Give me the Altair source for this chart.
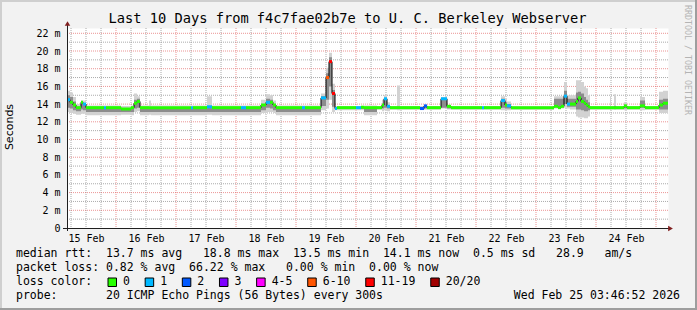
import altair as alt
import pandas as pd

# ---------------- data (hours since 15 Feb 00:00, values in ms) ----------------
seg_start_h = [4.4, 5.6, 6.8, 8.0, 10.0, 10.8, 12.0, 19.2, 20.0, 26.0,
               30.0, 31.2, 32.4, 33.6, 37.2, 38.0, 54.0, 54.8, 60.4, 62.4,
               74.0, 76.0, 82.0, 84.0, 85.6, 86.8, 88.0, 98.4, 99.6, 106.0,
               108.0, 109.2, 110.4, 111.6, 112.4, 120.0, 122.0, 123.2, 128.4, 130.4,
               131.2, 132.4, 133.6, 136.4, 137.6, 145.6, 147.2, 148.4, 154.0, 156.4,
               158.0, 170.4, 171.2, 178.0, 179.6, 180.4, 182.0, 199.2, 200.8, 202.0,
               203.2, 204.4, 205.6, 208.0, 208.8, 210.0, 211.2, 212.0, 212.8, 213.6,
               221.6, 222.0, 223.2, 224.0, 227.2, 228.4, 233.6, 235.6, 241.2, 242.8]
end_h = 244.8
start_h = 4.4

median_ms = [14.5, 14.2, 13.9, 13.6, 14.2, 14.0, 13.6, 13.6, 13.6, 13.45,
             13.6, 14.1, 14.3, 13.6, 13.6, 13.6, 13.6, 13.6, 13.7, 13.6,
             13.6, 13.6, 13.9, 14.2, 14.2, 13.9, 13.6, 13.6, 13.6, 14.7,
             17.0, 18.8, 15.2, 13.5, 13.6, 13.6, 13.65, 13.6, 13.6, 13.9,
             14.6, 13.75, 13.6, 13.6, 13.6, 13.5, 13.8, 13.6, 14.6, 13.75,
             13.6, 13.6, 13.6, 14.4, 13.9, 13.8, 13.6, 13.75, 13.6, 13.75,
             14.9, 14.0, 14.0, 14.3, 14.7, 14.3, 14.1, 13.9, 13.7, 13.6,
             13.6, 13.6, 13.6, 13.6, 13.8, 13.6, 13.8, 13.6, 13.9, 14.1]

loss_idx = [1, 0, 0, 0, 0, 1, 0, 1, 0, 0,
            0, 0, 0, 0, 0, 0, 1, 0, 1, 0,
            1, 0, 0, 1, 0, 0, 0, 1, 0, 1,
            5, 6, 6, 1, 0, 1, 0, 0, 0, 0,
            1, 1, 0, 0, 0, 2, 2, 0, 1, 0,
            0, 1, 0, 1, 0, 1, 0, 0, 0, 0,
            1, 1, 0, 0, 0, 0, 0, 0, 0, 0,
            0, 0, 0, 0, 0, 0, 0, 0, 0, 0]

smoke_lo = [13.1, 13.0, 12.9, 12.8, 12.9, 12.9, 12.75, 12.75, 12.75, 12.8,
            12.75, 13.1, 13.2, 12.75, 12.8, 12.75, 12.75, 12.75, 12.8, 12.75,
            12.75, 12.75, 13.0, 13.1, 13.1, 13.0, 12.75, 12.75, 12.75, 13.3,
            13.5, 14.5, 13.1, 13.3, 13.3, 13.3, 13.3, 12.75, 13.35, 13.2,
            13.3, 13.2, 13.35, 13.3, 13.35, 13.35, 13.35, 13.35, 13.5, 13.4,
            13.35, 13.35, 13.35, 13.3, 13.3, 13.3, 13.35, 13.5, 13.5, 13.5,
            13.6, 13.5, 13.4, 12.6, 12.5, 12.5, 12.4, 12.4, 12.6, 13.35,
            13.35, 13.35, 13.35, 13.35, 13.3, 13.35, 13.3, 13.35, 13.0, 13.0]

smoke_hi = [15.5, 15.3, 14.8, 14.0, 14.4, 14.4, 13.85, 13.85, 13.85, 13.8,
            13.85, 15.2, 14.9, 13.85, 14.4, 13.85, 13.85, 13.85, 14.9, 13.85,
            13.85, 13.85, 14.5, 15.1, 15.0, 14.4, 13.85, 13.85, 13.85, 15.2,
            18.1, 19.8, 16.3, 13.8, 13.8, 13.8, 13.8, 13.85, 13.8, 14.5,
            15.0, 14.2, 13.8, 16.1, 13.8, 13.8, 13.9, 13.8, 14.8, 13.9,
            13.8, 13.8, 13.8, 14.9, 14.6, 14.3, 13.8, 14.9, 14.9, 14.9,
            16.5, 15.0, 15.0, 16.7, 16.7, 16.5, 16.0, 15.8, 15.0, 13.8,
            14.9, 13.8, 15.1, 13.8, 14.2, 13.8, 14.8, 13.8, 15.4, 15.5]

core_lo = [13.6, 13.5, 13.3, 13.2, 13.4, 13.3, 13.1, 13.1, 13.1, 13.1,
           13.1, 13.5, 13.6, 13.1, 13.1, 13.1, 13.1, 13.1, 13.1, 13.1,
           13.1, 13.1, 13.3, 13.6, 13.5, 13.3, 13.1, 13.1, 13.1, 13.8,
           14.5, 16.0, 13.7, 13.4, 13.45, 13.45, 13.45, 13.1, 13.5, 13.5,
           13.6, 13.5, 13.5, 13.5, 13.5, 13.5, 13.5, 13.5, 13.6, 13.5,
           13.5, 13.5, 13.5, 13.6, 13.5, 13.5, 13.5, 13.7, 13.7, 13.7,
           14.0, 13.7, 13.7, 13.4, 13.4, 13.3, 13.2, 13.2, 13.3, 13.5,
           13.5, 13.5, 13.5, 13.5, 13.5, 13.5, 13.6, 13.5, 13.4, 13.4]

core_hi = [15.0, 14.8, 14.3, 13.7, 14.2, 14.1, 13.6, 13.6, 13.6, 13.5,
           13.6, 14.5, 14.6, 13.6, 13.6, 13.6, 13.6, 13.6, 13.8, 13.6,
           13.6, 13.6, 14.0, 14.6, 14.5, 14.0, 13.6, 13.6, 13.6, 14.9,
           17.5, 19.3, 15.6, 13.6, 13.65, 13.65, 13.65, 13.6, 13.65, 14.0,
           14.7, 13.9, 13.65, 13.7, 13.65, 13.65, 13.8, 13.65, 14.7, 13.8,
           13.65, 13.65, 13.65, 14.6, 14.2, 14.0, 13.65, 14.6, 14.6, 14.6,
           15.5, 14.6, 14.6, 15.3, 15.4, 15.2, 14.8, 14.5, 14.2, 13.65,
           13.7, 13.65, 13.8, 13.65, 13.9, 13.65, 14.4, 13.65, 14.5, 14.6]

day_labels = ["15 Feb", "16 Feb", "17 Feb", "18 Feb", "19 Feb",
              "20 Feb", "21 Feb", "22 Feb", "23 Feb", "24 Feb"]
y_ticks = [0, 2, 4, 6, 8, 10, 12, 14, 16, 18, 20, 22]
loss_labels = ["0", "1", "2", "3", "4-5", "6-10", "11-19", "20/20"]
loss_colors = ["#26ff00", "#00b8ff", "#0059ff", "#7e00ff",
               "#ff00ff", "#ff5500", "#ff0000", "#a10000"]

title_text = "Last 10 Days from f4c7fae02b7e to U. C. Berkeley Webserver"
rtt_text = "median rtt:  13.7 ms avg   18.8 ms max  13.5 ms min  14.1 ms now  0.5 ms sd   28.9   am/s"
loss_text = "packet loss: 0.82 % avg  66.22 % max   0.00 % min  0.00 % now"
color_text = "loss color:"
probe_text = "probe:       20 ICMP Echo Pings (56 Bytes) every 300s"
stamp_text = "Wed Feb 25 03:46:52 2026"
side_text = "RRDTOOL / TOBI OETIKER"
y_title = "Seconds"

# ---------------- layout ----------------
MONO = "DejaVu Sans Mono"
W, H = 601, 200
PL, PT = 67, 28
Y_MAX = 22.6

def nb(s):
    return s.replace(" ", "\u00a0")

xs = alt.Scale(domain=[start_h, end_h], nice=False, zero=False)
ys = alt.Scale(domain=[0, Y_MAX], nice=False, zero=False)
label_h = [12 + 24 * i for i in range(len(day_labels))]
lab_arr = "[" + ",".join("'%s'" % d for d in day_labels) + "]"
xa = alt.Axis(values=label_h, labelExpr=lab_arr + "[floor(datum.value/24)]",
              domain=False, ticks=False, grid=False, title=None,
              labelFont=MONO, labelFontSize=10, labelColor="#000000",
              labelPadding=5, labelFlush=False, labelOverlap=False)
ya = alt.Axis(values=y_ticks,
              labelExpr="datum.value == 0 ? '0\u00a0\u00a0' : datum.value + '\u00a0m'",
              domain=False, ticks=False, grid=False, title=None,
              labelFont=MONO, labelFontSize=10, labelColor="#000000",
              labelPadding=7, labelOverlap=False)

def X(f):
    return alt.X(f, type="quantitative", scale=xs, axis=xa)

def Y(f):
    return alt.Y(f, type="quantitative", scale=ys, axis=ya)

# tables
seg_end = seg_start_h[1:] + [end_h]
seg = pd.DataFrame({
    "h": seg_start_h, "h2": seg_end, "med": median_ms,
    "mlo": [m - 0.17 for m in median_ms], "mhi": [m + 0.17 for m in median_ms],
    "loss": [loss_labels[i] for i in loss_idx],
})
step = pd.DataFrame({
    "h": seg_start_h + [end_h], "med": median_ms + [median_ms[-1]],
    "lo": smoke_lo + [smoke_lo[-1]], "hi": smoke_hi + [smoke_hi[-1]],
    "clo": core_lo + [core_lo[-1]], "chi": core_hi + [core_hi[-1]],
})

minor_ms = [v for v in range(1, 23) if v % 2 == 1]
major_ms = [v for v in range(2, 23, 2)]
minor_h = [v for v in range(6, 245, 6) if v % 24 != 0 and v > start_h]
major_h = [v for v in range(24, 245, 24)]

GRID = dict(color="#8f8f8f", opacity=0.75, strokeDash=[1, 1], strokeWidth=1)
MGRID = dict(color="#de4f4f", opacity=0.6, strokeDash=[1, 1], strokeWidth=1)

layers = []
layers.append(alt.Chart(pd.DataFrame({"ms": minor_ms})).mark_rule(**GRID).encode(y=Y("ms")))
layers.append(alt.Chart(pd.DataFrame({"h": minor_h})).mark_rule(**GRID).encode(x=X("h")))
layers.append(alt.Chart(pd.DataFrame({"ms": major_ms})).mark_rule(**MGRID).encode(y=Y("ms")))
layers.append(alt.Chart(pd.DataFrame({"h": major_h})).mark_rule(**MGRID).encode(x=X("h")))

# smoke
layers.append(alt.Chart(step).mark_area(interpolate="step-after", color="#d2d2d2")
              .encode(x=X("h"), y=Y("lo"), y2="hi"))
layers.append(alt.Chart(step).mark_area(interpolate="step-after", color="#8c8c8c")
              .encode(x=X("h"), y=Y("clo"), y2="chi"))
# median
layers.append(alt.Chart(step).mark_line(interpolate="step-after", color="#000000", strokeWidth=1)
              .encode(x=X("h"), y=Y("med")))
layers.append(alt.Chart(seg).mark_rect()
              .encode(x=X("h"), x2="h2", y=Y("mlo"), y2="mhi",
                      color=alt.Color("loss:N", scale=alt.Scale(domain=loss_labels, range=loss_colors),
                                      legend=None)))

one = pd.DataFrame({"a": [0]})

# axes lines and arrows
layers.append(alt.Chart(one).mark_rule(color="#1f1f1f", strokeWidth=1)
              .encode(x=alt.value(0.5), y=alt.value(-3), y2=alt.value(203)))
layers.append(alt.Chart(one).mark_rule(color="#1f1f1f", strokeWidth=1)
              .encode(x=alt.value(-4), x2=alt.value(602), y=alt.value(200.5)))
layers.append(alt.Chart(one).mark_point(shape="triangle-up", filled=True, size=30, color="#801f1f", opacity=1)
              .encode(x=alt.value(0.5), y=alt.value(-4.5)))
layers.append(alt.Chart(one).mark_point(shape="triangle-right", filled=True, size=30, color="#801f1f", opacity=1)
              .encode(x=alt.value(603.5), y=alt.value(200.5)))

def text_layer(txt, x, y, size=11.5, align="left", font=MONO, color="#000000", angle=0):
    return (alt.Chart(pd.DataFrame({"t": [nb(txt)]}))
            .mark_text(align=align, baseline="middle", font=font, fontSize=size, color=color, angle=angle)
            .encode(text="t:N", x=alt.value(x), y=alt.value(y)))

layers.append(text_layer(title_text, 280.5, -9, size=13.7, align="center"))
layers.append(text_layer(y_title, -57, 99, size=11, align="center", font="DejaVu Sans", angle=270))
layers.append(text_layer(side_text, 619.5, 32, size=8.3, align="center", color="#b4b4b4", angle=90))
layers.append(text_layer(rtt_text, -51, 226))
layers.append(text_layer(loss_text, -51, 240))
layers.append(text_layer(color_text, -51, 254))
layers.append(text_layer(probe_text, -51, 268))
layers.append(text_layer(stamp_text, 613, 268, align="right"))

# loss colour legend
lx = 123.0
for lab, col in zip(loss_labels, loss_colors):
    layers.append(alt.Chart(one).mark_rect(fill=col, stroke="#000000", strokeWidth=1)
                  .encode(x=alt.value(lx - 15 - PL), x2=alt.value(lx - 6.5 - PL),
                          y=alt.value(250), y2=alt.value(258.5)))
    layers.append(text_layer(lab, lx - PL, 254))
    lx += 6.96 * len(lab) + 30.2

# 3D frame shades
layers.append(alt.Chart(one).mark_rect(color="#cfcfcf")
              .encode(x=alt.value(-PL), x2=alt.value(697 - PL), y=alt.value(-PT), y2=alt.value(-PT + 2)))
layers.append(alt.Chart(one).mark_rect(color="#cfcfcf")
              .encode(x=alt.value(-PL), x2=alt.value(-PL + 2), y=alt.value(-PT), y2=alt.value(310 - PT)))
layers.append(alt.Chart(one).mark_rect(color="#9e9e9e")
              .encode(x=alt.value(-PL), x2=alt.value(697 - PL), y=alt.value(310 - PT - 2), y2=alt.value(310 - PT)))
layers.append(alt.Chart(one).mark_rect(color="#9e9e9e")
              .encode(x=alt.value(697 - PL - 2), x2=alt.value(697 - PL), y=alt.value(-PT), y2=alt.value(310 - PT)))

chart = (alt.layer(*layers)
         .properties(width=W, height=H, background="#f2f2f2",
                     padding={"left": PL, "top": PT, "right": 697 - PL - W, "bottom": 310 - PT - H},
                     autosize=alt.AutoSizeParams(type="none"))
         .configure_view(fill="#ffffff", stroke="transparent"))

chart.save("out.html", embed_options={"renderer": "svg", "actions": False})
